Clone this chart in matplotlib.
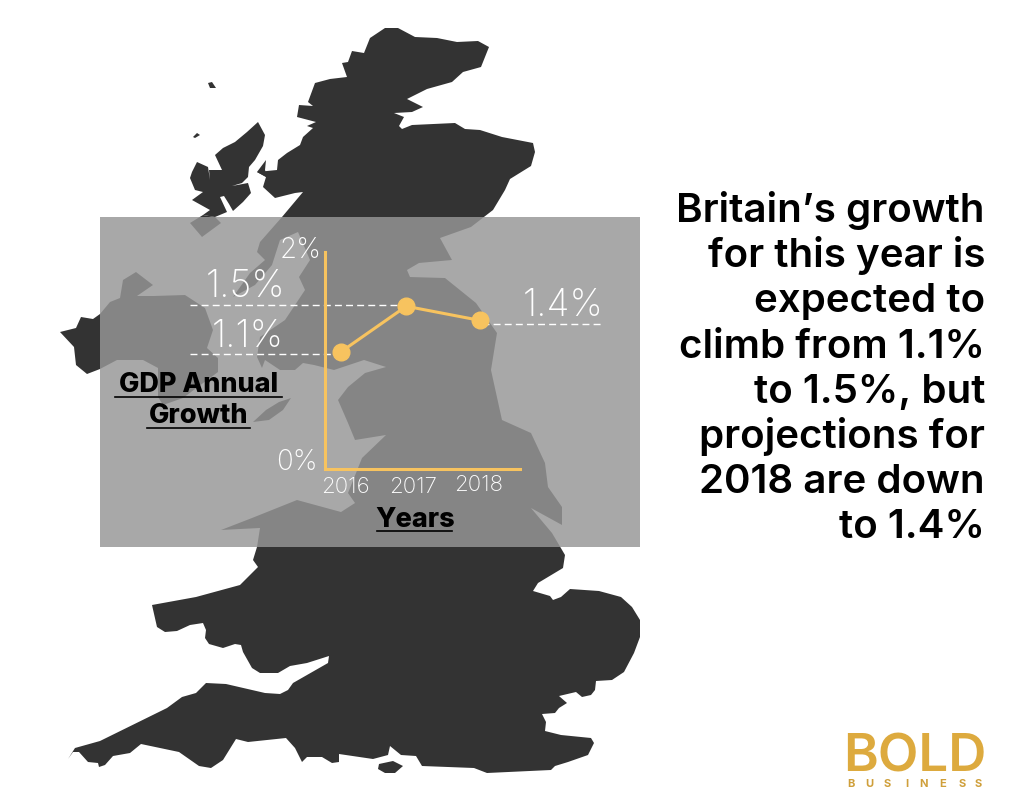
import matplotlib
matplotlib.use("Agg")
import matplotlib.pyplot as plt
from matplotlib.patches import Polygon, Rectangle

# chart data
years = [2016, 2016.94, 2018]
growth = [1.08, 1.50, 1.37]
dash_levels = [1.06, 1.51, 1.335]
y_ticks = ["0%", "2%"]
year_labels = ["2016", "2017", "2018"]
value_labels = ["1.1%", "1.5%", "1.4%"]
side_text = ["Britain\u2019s growth", "for this year is", "expected to", "climb from 1.1%",
             "to 1.5%, but", "projections for", "2018 are down", "to 1.4%"]

# map silhouette, traced in image pixels
mainland = [(385,28),(398,28),(415,37),(437,38),(457,42),(478,41),(489,47),(481,67),(463,72),(452,82),
    (427,89),(407,99),(423,107),(412,112),(394,113),(404,117),(399,126),(402,129),(412,125),(455,123),
    (465,129),(480,130),(502,137),(533,143),(535,152),(531,166),(510,179),(505,190),(493,210),(471,227),
    (440,238),(452,260),(419,263),(407,270),(410,277),(445,278),(476,303),(497,333),(491,370),(502,420),
    (531,433),(545,463),(548,487),(562,507),(562,525),(531,508),(552,533),(565,555),(563,568),(538,583),
    (533,591),(550,596),(553,600),(561,597),(570,589),(599,591),(621,597),(632,607),(640,620),(640,637),
    (634,653),(624,672),(612,680),(596,681),(595,690),(591,695),(582,697),(576,692),(559,696),(567,703),
    (559,708),(555,713),(542,714),(546,722),(545,731),(561,735),(591,738),(594,743),(588,755),(568,762),
    (555,766),(551,770),(487,773),(474,768),(422,766),(416,756),(401,755),(390,746),(388,755),(373,759),
    (339,754),(339,762),(332,763),(322,757),(307,757),(302,762),(295,748),(286,738),(248,742),(236,739),
    (223,760),(211,768),(199,766),(179,752),(141,744),(130,753),(113,756),(105,765),(99,767),(98,763),
    (88,762),(79,752),(73,752),(68,759),(75,748),(100,741),(167,708),(182,697),(196,693),(206,683),
    (226,684),(265,693),(280,694),(288,690),(293,683),(328,663),(329,656),(307,663),(290,666),(278,673),
    (260,673),(252,668),(243,652),(241,645),(235,644),(223,648),(209,644),(205,638),(206,630),(203,623),
    (190,625),(177,631),(165,632),(157,627),(152,605),(196,597),(240,585),(258,567),(253,560),(257,547),
    (260,528),(221,530),(252,518),(297,500),(341,512),(355,503),(348,493),(362,458),(386,435),(355,440),
    (348,423),(338,400),(348,387),(365,373),(386,367),(364,360),(334,370),(314,365),(303,363),(295,370),
    (280,370),(265,360),(262,368),(257,357),(260,337),(285,320),(305,290),(299,277),(310,260),(298,232),
    (280,240),(272,265),(255,285),(233,297),(250,273),(265,260),(257,252),(260,242),(282,217),(303,192),
    (295,193),(275,198),(263,187),(266,177),(257,172),(277,170),(278,160),(287,153),(300,145),(303,137),
    (313,128),(307,126),(316,122),(297,117),(299,105),(313,106),(308,102),(315,83),(330,79),(347,77),
    (342,63),(348,62),(352,51),(364,53),(370,38)]
ireland = [(100,314),(93,319),(81,317),(76,328),(60,332),(74,347),(76,365),(87,374),(100,369),(117,360),
    (143,360),(158,368),(158,397),(163,405),(183,398),(218,372),(218,358),(207,348),(213,330),(205,308),
    (185,295),(153,296),(137,296),(153,285),(136,272),(123,280),(120,298),(110,302)]
lewis = [(258,122),(265,135),(263,146),(255,160),(249,167),(248,177),(242,183),(232,186),(248,183),(251,193),
    (243,202),(233,211),(229,204),(224,196),(220,197),(227,212),(215,217),(203,215),(210,210),(192,200),
    (203,192),(195,190),(190,178),(192,172),(197,162),(208,167),(210,180),(209,170),(222,170),(215,155),
    (223,148),(235,142),(247,132)]
islands = [[(190,223),(202,237),(221,223),(215,217),(203,215)],
    [(208,83),(212,82),(216,88),(210,88)],
    [(193,137),(197,133),(200,135),(195,138)],
    [(291,398),(283,410),(269,420),(253,422),(266,410),(279,402)],
    [(379,764),(393,761),(403,766),(395,773),(385,773),(378,769)],
    [(257,172),(266,160),(265,170),(268,178)]]

plt.rcParams["font.family"] = ["Inter", "DejaVu Sans"]
dark = "#333333"
gold = "#F7C35F"

fig = plt.figure(figsize=(10.24, 8.1), dpi=100)
bg = fig.add_axes([0, 0, 1, 1])
bg.set_xlim(0, 1024)
bg.set_ylim(810, 0)
bg.axis("off")

for shape in [mainland, ireland, lewis] + islands:
    bg.add_patch(Polygon(shape, closed=True, fc=dark, ec="none", zorder=1))
bg.add_patch(Rectangle((100, 217), 540, 330, fc="#979797", ec="none", alpha=0.83, zorder=2))

# line chart on its own axes, placed over the grey panel
left, right, top, bottom = 325, 520, 252, 469
ax = fig.add_axes([left/1024, 1-bottom/810, (right-left)/1024, (bottom-top)/810])
ax.patch.set_alpha(0)
ax.set_xlim(2015.77, 2018.58)
ax.set_ylim(0, 2)
ax.spines["top"].set_visible(False)
ax.spines["right"].set_visible(False)
ax.spines["left"].set_color(gold)
ax.spines["bottom"].set_color(gold)
ax.spines["left"].set_linewidth(2.2)
ax.spines["bottom"].set_linewidth(2.2)
ax.set_xticks([])
ax.set_yticks([])
ax.plot(years, growth, color=gold, lw=2.2, marker="o", ms=12, zorder=5)

# dashed guides run past the axes so they live on the background axes
to_px = lambda v: bottom - v/2*(bottom-top)
dash = dict(color="white", lw=1, dashes=(5, 3), zorder=3)
bg.plot([190, 340], [to_px(dash_levels[0])]*2, **dash)
bg.plot([190, 400], [to_px(dash_levels[1])]*2, **dash)
bg.plot([482, 603], [to_px(dash_levels[2])]*2, **dash)

light = dict(color="white", fontweight="light", zorder=6)
bg.text(246, 297, value_labels[1], fontsize=27, ha="center", va="baseline", **light)
bg.text(248, 347, value_labels[0], fontsize=27, ha="center", va="baseline", **light)
bg.text(563, 316, value_labels[2], fontsize=27, ha="center", va="baseline", **light)
bg.text(322, 258, y_ticks[1], fontsize=20, ha="right", va="baseline", **light)
bg.text(318, 470, y_ticks[0], fontsize=20, ha="right", va="baseline", **light)
for x, y, lab in zip([345, 413, 479], [493, 493, 491], year_labels):
    bg.text(x, y, lab, fontsize=16, ha="center", va="baseline", **light)

# bold axis titles, underline drawn by hand
bold = dict(color="black", fontweight="heavy", fontsize=19.5, ha="center", va="baseline", zorder=6)
bg.text(199, 392, "GDP Annual", **bold)
bg.plot([115, 282], [397, 397], color="black", lw=1.2, zorder=6)
bg.text(199, 423, "Growth", **bold)
bg.plot([147, 250], [427.5, 427.5], color="black", lw=1.2, zorder=6)
bg.text(415, 527, "Years", **bold)
bg.plot([377, 452], [531, 531], color="black", lw=1.2, zorder=6)

for i, line in enumerate(side_text):
    bg.text(985, 222 + i*45.2, line, color="black", fontsize=29, fontweight="semibold", ha="right", va="baseline")

# logo
bg.text(915, 772, "BOLD", color="#DDAA3E", fontsize=38, fontweight="semibold", ha="center", va="baseline")
for x, ch in zip([851, 869, 887, 907, 924, 943, 962, 978], "BUSINESS"):
    bg.text(x, 787, ch, color="#CF9F3A", fontsize=8, fontweight="bold", ha="center", va="baseline")

fig.savefig("out.png", dpi=100)
